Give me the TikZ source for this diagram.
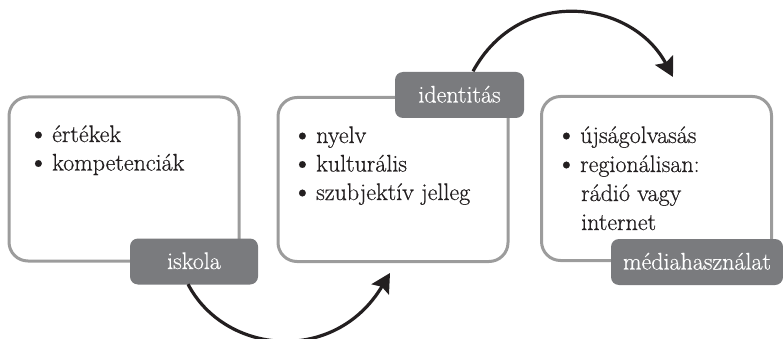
\documentclass[tikz,border=0pt]{standalone}
\usepackage{fontspec}
\setmainfont{Latin Modern Roman}[FakeBold=0.5]
\usetikzlibrary{arrows.meta}
\definecolor{boxgray}{HTML}{9C9C9C}
\definecolor{taggray}{HTML}{7A7B7E}
\definecolor{ink}{HTML}{231F20}
\newcommand\bul{\llap{\raisebox{-1pt}{\fontsize{30}{30}\selectfont •}\hspace{3pt}}}
\begin{document}
\begin{tikzpicture}[x=1pt,y=-1pt,
  box/.style={draw=boxgray, line width=3pt, rounded corners=19pt, minimum width=230pt, minimum height=164pt, inner sep=0pt, fill=white},
  tag/.style={fill=taggray, rounded corners=8pt, text=white, inner sep=0pt, minimum height=46pt, text height=15pt, text depth=0pt, font=\fontsize{24}{28}\selectfont},
  item/.style={anchor=base west, inner sep=0pt, text=ink, font=\fontsize{24}{28}\selectfont},
  flow/.style={draw=ink, line width=3.2pt, -{Stealth[length=19pt,width=20pt,inset=3pt]}}]
\useasboundingbox (0,0) rectangle (783,339);
% boxes
\node[box] (b1) at (124,179) {};
\node[box] (b2) at (393,179.5) {};
\node[box] (b3) at (656.5,178.5) {};
% tags
\node[tag, minimum width=128pt] (iskola) at (194,261.5) {iskola};
\node[tag, minimum width=129pt] (ident) at (459.5,95) {identitás};
\node[tag, minimum width=172pt] (media) at (697,262) {médiahasználat};
% texts
\node[item] (t11) at (52,142) {\bul értékek};
\node[item] (t12) at (52,170.5) {\bul kompetenciák};
\node[item] (t21) at (316,143) {\bul nyelv};
\node[item] (t22) at (316,171.5) {\bul kulturális};
\node[item] (t23) at (316,200) {\bul szubjektív jelleg};
\node[item] (t31) at (580,143) {\bul újságolvasás};
\node[item] (t32) at (580,172) {\bul regionálisan:};
\node[item] (t33) at (581,201) {rádió vagy};
\node[item] (t34) at (581,230) {internet};
% arrows
\coordinate (a1end) at (390,273);
\coordinate (a2end) at (673,77);
\draw[flow] ([xshift=-6pt,yshift=0.5pt]iskola.south) .. controls (225,355) and (335,365) .. (a1end);
\draw[flow] ([xshift=13.5pt,yshift=0.5pt]ident.north) .. controls (520,-15) and (632,0) .. (a2end);
\end{tikzpicture}
\end{document}
